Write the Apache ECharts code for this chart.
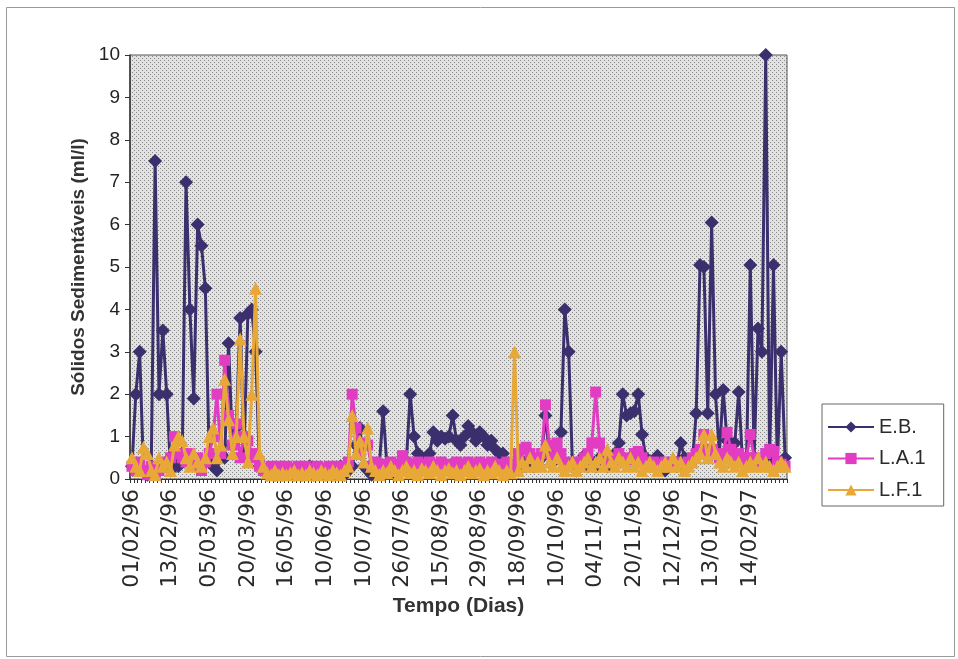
<!DOCTYPE html>
<html>
<head>
<meta charset="utf-8">
<script src="https://cdn.jsdelivr.net/npm/echarts@6/dist/echarts.min.js"></script>
<style>
html,body{margin:0;padding:0;background:#fff;}
#c{width:958px;height:659px;}
</style>
</head>
<body>
<div id="c"></div>
<script>
// Tick labels shown every 10th sample
var tickLabels = ['01/02/96','13/02/96','05/03/96','20/03/96','16/05/96','10/06/96','10/07/96','26/07/96',
  '15/08/96','29/08/96','18/09/96','10/10/96','04/11/96','20/11/96','12/12/96','13/01/97','14/02/97'];
var labelEvery = 10;
var sampleCount = 170;

var seriesNames = ['E.B.', 'L.A.1', 'L.F.1'];

var eb = [
  0.3, 2.0, 3.0, 0.2, 0.1, 0.3, 7.5, 2.0, 3.5, 2.0,
  0.2, 0.5, 0.3, 0.4, 7.0, 4.0, 1.9, 6.0, 5.5, 4.5,
  0.5, 0.3, 0.2, 0.6, 0.5, 3.2, 0.8, 1.2, 3.8, 0.6,
  3.9, 4.0, 3.0, 0.3, 0.2, 0.1, 0.2, 0.1, 0.15, 0.1,
  0.2, 0.25, 0.1, 0.15, 0.1, 0.2, 0.3, 0.1, 0.15, 0.25,
  0.1, 0.2, 0.1, 0.15, 0.3, 0.1, 0.2, 0.3, 0.8, 1.2,
  0.3, 0.2, 0.1, 0.2, 0.3, 1.6, 0.3, 0.2, 0.1, 0.3,
  0.2, 0.4, 2.0, 1.0, 0.6, 0.5, 0.3, 0.6, 1.1, 0.9,
  1.0, 0.95, 1.0, 1.5, 0.9, 0.8, 1.0, 1.25, 1.1, 0.9,
  1.1, 1.0, 0.8, 0.9, 0.7, 0.6, 0.6, 0.3, 0.2, 0.3,
  0.2, 0.4, 0.3, 0.5, 0.3, 0.4, 0.5, 1.5, 0.6, 0.4,
  0.5, 1.1, 4.0, 3.0, 0.3, 0.2, 0.4, 0.55, 0.3, 0.4,
  0.3, 0.5, 0.4, 0.3, 0.5, 0.6, 0.85, 2.0, 1.5, 1.55,
  1.6, 2.0, 1.05, 0.5, 0.3, 0.4, 0.55, 0.3, 0.2, 0.3,
  0.4, 0.3, 0.85, 0.5, 0.3, 0.4, 1.55, 5.05, 5.0, 1.55,
  6.05, 2.0, 0.6, 2.1, 0.9, 0.85, 0.85, 2.05, 0.4, 0.3,
  5.05, 0.5, 3.55, 3.0, 10.0, 0.4, 5.05, 0.3, 3.0, 0.5
];

var la1 = [
  0.3, 0.2, 0.4, 0.2, 0.1, 0.3, 0.1, 0.2, 0.4, 0.3,
  0.5, 1.0, 0.6, 0.5, 0.4, 0.6, 0.3, 0.5, 0.2, 0.4,
  0.6, 1.0, 2.0, 0.6, 2.8, 1.5, 0.8, 1.3, 0.5, 1.0,
  0.9, 0.6, 0.5, 0.3, 0.2, 0.25, 0.3, 0.2, 0.3, 0.25,
  0.3, 0.2, 0.25, 0.3, 0.2, 0.3, 0.25, 0.2, 0.3, 0.2,
  0.25, 0.3, 0.2, 0.3, 0.25, 0.3, 0.4, 2.0, 1.2, 0.6,
  0.85, 0.8, 0.3, 0.4, 0.3, 0.35, 0.3, 0.4, 0.35, 0.3,
  0.55, 0.4, 0.3, 0.35, 0.4, 0.3, 0.35, 0.4, 0.3, 0.35,
  0.4, 0.3, 0.35, 0.3, 0.4, 0.35, 0.3, 0.4, 0.35, 0.3,
  0.4, 0.35, 0.3, 0.4, 0.3, 0.35, 0.3, 0.4, 0.3, 0.35,
  0.6, 0.7, 0.75, 0.6, 0.5, 0.4, 0.6, 1.75, 0.8, 0.5,
  0.85, 0.6, 0.4, 0.3, 0.35, 0.4, 0.3, 0.5, 0.6, 0.85,
  2.05, 0.85, 0.6, 0.5, 0.4, 0.5, 0.6, 0.4, 0.5, 0.45,
  0.6, 0.65, 0.5, 0.4, 0.3, 0.4, 0.35, 0.3, 0.4, 0.3,
  0.35, 0.4, 0.3, 0.35, 0.4, 0.5, 0.6, 0.7, 1.05, 0.6,
  0.7, 0.6, 0.5, 0.6, 1.1, 0.7, 0.5, 0.6, 0.4, 0.5,
  1.05, 0.5, 0.4, 0.3, 0.6, 0.7, 0.65, 0.4, 0.35, 0.3
];

var lf1 = [
  0.5, 0.3, 0.2, 0.75, 0.6, 0.2, 0.1, 0.5, 0.3, 0.4,
  0.2, 0.8, 1.0, 0.9, 0.5, 0.3, 0.6, 0.4, 0.3, 0.5,
  1.0, 1.2, 0.5, 0.8, 2.35, 1.4, 0.6, 1.0, 3.3, 1.0,
  0.4, 2.0, 4.5, 0.6, 0.3, 0.15, 0.1, 0.2, 0.1, 0.15,
  0.1, 0.15, 0.2, 0.1, 0.15, 0.1, 0.2, 0.15, 0.1, 0.2,
  0.15, 0.1, 0.2, 0.15, 0.1, 0.2, 0.3, 1.5, 0.6, 0.9,
  0.4, 1.2, 0.3, 0.2, 0.1, 0.2, 0.15, 0.3, 0.2, 0.1,
  0.2, 0.3, 0.15, 0.2, 0.1, 0.25, 0.2, 0.15, 0.3, 0.2,
  0.1, 0.2, 0.25, 0.15, 0.2, 0.1, 0.2, 0.3, 0.15, 0.2,
  0.25, 0.1, 0.2, 0.15, 0.3, 0.2, 0.1, 0.2, 0.15, 3.0,
  0.2, 0.4, 0.3, 0.5, 0.3, 0.4, 0.3, 0.8, 0.4, 0.3,
  0.5, 0.3, 0.2, 0.3, 0.4, 0.2, 0.3, 0.4, 0.5, 0.3,
  0.4, 0.5, 0.3, 0.7, 0.4, 0.3, 0.5, 0.4, 0.3, 0.5,
  0.3, 0.4, 0.2, 0.3, 0.4, 0.3, 0.2, 0.3, 0.4, 0.3,
  0.5, 0.3, 0.4, 0.2, 0.3, 0.4, 0.5, 0.6, 1.05, 0.5,
  1.05, 0.6, 0.4, 0.3, 0.5, 0.4, 0.3, 0.4, 0.2, 0.3,
  0.4, 0.3, 0.5, 0.3, 0.4, 0.3, 0.2, 0.3, 0.4, 0.3
];

// categories: date label on every 10th sample, blank otherwise
var categories = [];
for (var i = 0; i < sampleCount; i++) {
  categories.push(i % labelEvery === 0 ? tickLabels[i / labelEvery] : '');
}

// stippled plot background
var pc = document.createElement('canvas');
pc.width = 4; pc.height = 4;
var pctx = pc.getContext('2d');
pctx.fillStyle = '#e2e2e2'; pctx.fillRect(0, 0, 4, 4);
pctx.fillStyle = '#888888';
pctx.fillRect(0, 0, 1, 1); pctx.fillRect(2, 2, 1, 1);

var FONT = '"Liberation Sans", Arial, sans-serif';
var WIDE = '"DejaVu Sans", Verdana, sans-serif';
var colors = ['#3b2f6e', '#e23cc2', '#e8a838'];

var chart = echarts.init(document.getElementById('c'), null, {renderer: 'canvas'});
chart.setOption({
  animation: false,
  backgroundColor: '#ffffff',
  color: colors,
  graphic: [{
    type: 'rect', left: 4, top: 5, shape: {width: 948, height: 649},
    style: {fill: 'none', stroke: '#9a9a9a', lineWidth: 1}, silent: true, z: -1
  }],
  grid: {
    left: 130, right: 171, top: 55, bottom: 180,
    show: true,
    backgroundColor: {image: pc, repeat: 'repeat'},
    borderColor: '#555', borderWidth: 1
  },
  legend: {
    orient: 'vertical',
    left: 822, top: 404,
    padding: [13, 18, 6, 5],
    borderColor: '#666', borderWidth: 1,
    backgroundColor: '#fff',
    itemWidth: 46, itemHeight: 14, itemGap: 11.5,
    textStyle: {fontFamily: FONT, fontSize: 20, color: '#2a2a2a', lineHeight: 20},
    data: seriesNames
  },
  xAxis: {
    type: 'category',
    data: categories,
    boundaryGap: true,
    name: 'Tempo (Dias)',
    nameLocation: 'middle',
    nameGap: 111,
    nameTextStyle: {fontFamily: FONT, fontSize: 21, fontWeight: 'bold', color: '#333'},
    axisLine: {lineStyle: {color: '#333', width: 1}},
    axisTick: {show: true, interval: 0, length: 4, lineStyle: {color: '#333'}},
    axisLabel: {interval: labelEvery - 1, rotate: 90, margin: 10, fontFamily: WIDE, fontSize: 22, color: '#2a2a2a'},
    splitLine: {show: false}
  },
  yAxis: {
    type: 'value',
    min: 0, max: 10, interval: 1,
    name: 'Sólidos Sedimentáveis (ml/l)',
    nameLocation: 'middle',
    nameRotate: 90,
    nameGap: 32,
    nameTextStyle: {fontFamily: FONT, fontSize: 19, fontWeight: 'bold', color: '#333'},
    axisLine: {show: true, lineStyle: {color: '#333', width: 1.5}},
    axisTick: {show: true, inside: false, length: 5, lineStyle: {color: '#333'}},
    axisLabel: {margin: 10, fontFamily: FONT, fontSize: 19, color: '#222'},
    splitLine: {show: false}
  },
  series: [
    {name: seriesNames[0], type: 'line', data: eb, symbol: 'diamond', symbolSize: 14, showAllSymbol: true,
     lineStyle: {width: 3, color: colors[0]}, itemStyle: {color: colors[0]}, z: 2},
    {name: seriesNames[1], type: 'line', data: la1, symbol: 'rect', symbolSize: 11, showAllSymbol: true,
     lineStyle: {width: 3, color: colors[1]}, itemStyle: {color: colors[1]}, z: 3},
    {name: seriesNames[2], type: 'line', data: lf1, symbol: 'triangle', symbolSize: 13, showAllSymbol: true,
     lineStyle: {width: 3, color: colors[2]}, itemStyle: {color: colors[2]}, z: 4}
  ]
});
</script>
</body>
</html>
